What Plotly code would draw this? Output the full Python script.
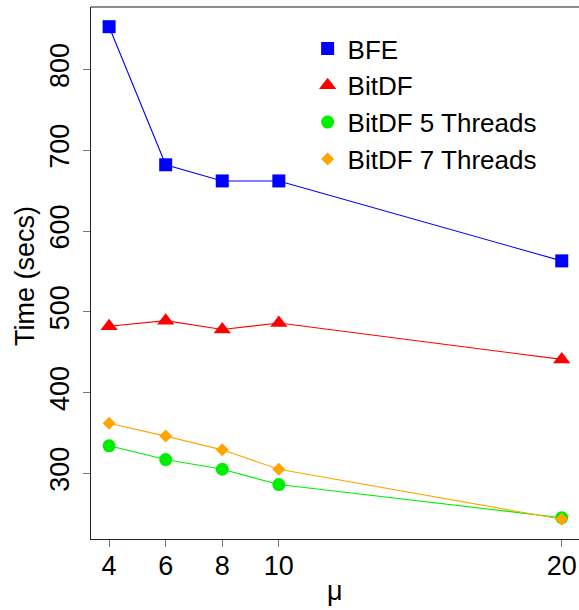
import plotly.graph_objects as go

mu = [4, 6, 8, 10, 20]
bfe = [853, 682, 662, 662, 563]
bitdf = [482, 489, 478, 486, 441]
bitdf5 = [334, 317, 305, 286, 245]
bitdf7 = [362, 346, 329, 305, 243]

series = [
    ("BFE", bfe, "#0000FF", "square", 13),
    ("BitDF", bitdf, "#FF0000", "triangle-up", 15),
    ("BitDF 5 Threads", bitdf5, "#00EE00", "circle", 13),
    ("BitDF 7 Threads", bitdf7, "#FFA500", "diamond", 10),
]

FONT = "Liberation Sans, Arial, Helvetica, sans-serif"

fig = go.Figure()
for name, vals, col, sym, sz in series:
    fig.add_trace(go.Scatter(x=mu, y=vals, mode="lines", line=dict(color=col, width=1.1),
                             showlegend=False, hoverinfo="skip"))
    fig.add_trace(go.Scatter(x=mu, y=vals, mode="markers", name=name,
                             marker=dict(color=col, symbol=sym, size=sz, line=dict(width=0)),
                             legendgroup=name))

allv = bfe + bitdf + bitdf5 + bitdf7
lo, hi = min(allv), max(allv)
pad = (hi - lo) * 0.04

fig.update_layout(
    width=579, height=610,
    margin=dict(l=91, r=0, t=7, b=71),
    paper_bgcolor="white", plot_bgcolor="white",
    font=dict(family=FONT, color="black"),
    showlegend=True,
    legend=dict(x=0.4439, y=0.966, xanchor="left", yanchor="top",
                font=dict(size=26, family=FONT), bgcolor="rgba(0,0,0,0)",
                tracegroupgap=0, itemsizing="trace"),
    xaxis=dict(range=[3.36, 20.61], tickvals=mu, ticktext=[str(m) for m in mu],
               automargin=False,
               showgrid=False, zeroline=False, showline=True, linecolor="#222", linewidth=1.3,
               ticks="outside", ticklen=7, tickcolor="#777", tickwidth=1.3,
               ticklabelstandoff=-5, tickfont=dict(size=27)),
    yaxis=dict(range=[lo - pad, hi + pad], dtick=100, tick0=0,
               automargin=False,
               showgrid=False, zeroline=False, showline=True, linecolor="#222", linewidth=1.3,
               ticks="outside", ticklen=7, tickcolor="#777", tickwidth=1.3,
               ticklabelstandoff=3, tickangle=-90, tickfont=dict(size=27)),
    annotations=[
        dict(text="μ", xref="paper", yref="paper", x=0.5, y=0, yshift=-52,
             xanchor="center", yanchor="middle", showarrow=False, font=dict(size=27)),
        dict(text="Time (secs)", xref="paper", yref="paper", x=-0.1352, y=0.4944,
             xanchor="center", yanchor="middle", textangle=-90, showarrow=False,
             font=dict(size=27)),
    ],
    shapes=[dict(type="line", xref="paper", yref="paper", x0=0, x1=1, y0=1, y1=1,
                 line=dict(color="#666", width=1.5))],
)

fig.write_html("out.html", config={"displayModeBar": False},
               post_script="document.body.style.margin='0';document.body.style.overflow='hidden';")
